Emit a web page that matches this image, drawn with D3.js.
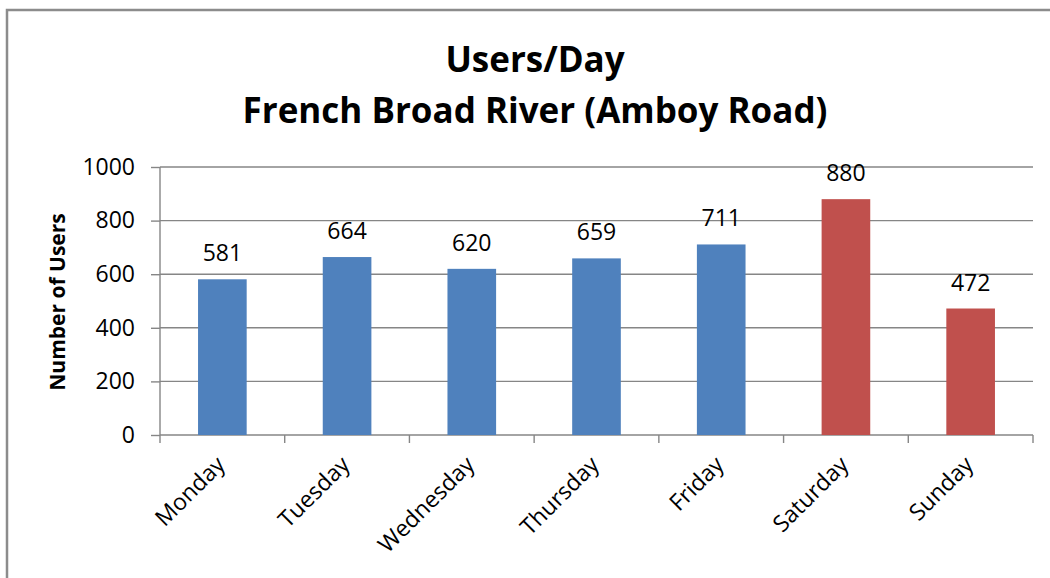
<!DOCTYPE html>
<html>
<head>
<meta charset="utf-8">
<script src="https://cdn.jsdelivr.net/npm/d3@7"></script>
<style>
  body { margin: 0; background: #fff; }
  svg { display: block; font-family: "Open Sans", sans-serif; }
</style>
</head>
<body>
<div id="chart"></div>
<script>
// chart values
const days = ["Monday", "Tuesday", "Wednesday", "Thursday", "Friday", "Saturday", "Sunday"];
const users = [581, 664, 620, 659, 711, 880, 472];
const weekend = ["Saturday", "Sunday"];
const yTicks = [0, 200, 400, 600, 800, 1000];
const titleLines = ["Users/Day", "French Broad River (Amboy Road)"];

const width = 1050, height = 578;
const plot = { left: 160, right: 1033, top: 167, bottom: 435 };
const gridColor = "#868686";

const svg = d3.select("#chart")
  .append("svg")
  .attr("width", width)
  .attr("height", height);

// outer chart border (right/bottom run off the picture)
svg.append("rect")
  .attr("x", 7)
  .attr("y", 10)
  .attr("width", 1060)
  .attr("height", 600)
  .attr("fill", "none")
  .attr("stroke", "#8c8c8c")
  .attr("stroke-width", 2.5);

const xScale = d3.scaleBand()
  .domain(days)
  .range([plot.left, plot.right])
  .padding(0);

const yScale = d3.scaleLinear()
  .domain([0, 1000])
  .range([plot.bottom, plot.top]);

// gridlines
svg.append("g")
  .selectAll("line")
  .data(yTicks.filter(d => d > 0))
  .enter().append("line")
  .attr("x1", plot.left)
  .attr("x2", plot.right)
  .attr("y1", d => yScale(d))
  .attr("y2", d => yScale(d))
  .attr("stroke", gridColor)
  .attr("stroke-width", 1.4);

// y axis
const yAxis = svg.append("g")
  .attr("transform", `translate(${plot.left},0)`)
  .call(d3.axisLeft(yScale).tickValues(yTicks).tickFormat(d3.format("d")).tickSize(9).tickPadding(16));
yAxis.select(".domain").remove();
yAxis.selectAll(".tick line").attr("stroke", gridColor).attr("stroke-width", 1.4);
yAxis.selectAll(".tick text")
  .attr("fill", "#000")
  .style("font-size", "23px")
  .style("font-family", "Open Sans, sans-serif");

svg.append("line")
  .attr("x1", plot.left).attr("x2", plot.left)
  .attr("y1", plot.top).attr("y2", plot.bottom + 8)
  .attr("stroke", gridColor).attr("stroke-width", 1.4);

// x axis
svg.append("line")
  .attr("x1", plot.left).attr("x2", plot.right)
  .attr("y1", plot.bottom).attr("y2", plot.bottom)
  .attr("stroke", gridColor).attr("stroke-width", 1.4);

svg.append("g")
  .selectAll("line")
  .data(days.slice(1).concat(["end"]))
  .enter().append("line")
  .attr("x1", (d, i) => plot.left + xScale.step() * (i + 1))
  .attr("x2", (d, i) => plot.left + xScale.step() * (i + 1))
  .attr("y1", plot.bottom)
  .attr("y2", plot.bottom + 8)
  .attr("stroke", gridColor).attr("stroke-width", 1.4);

svg.append("g")
  .selectAll("text")
  .data(days)
  .enter().append("text")
  .attr("transform", d => `translate(${xScale(d) + xScale.bandwidth() / 2 + 4},${plot.bottom + 31}) rotate(-45)`)
  .attr("text-anchor", "end")
  .style("font-size", "23px")
  .text(d => d);

// bars
const barW = xScale.bandwidth() * 0.39;
svg.append("g")
  .selectAll("rect")
  .data(days)
  .enter().append("rect")
  .attr("x", d => xScale(d) + (xScale.bandwidth() - barW) / 2)
  .attr("width", barW)
  .attr("y", (d, i) => yScale(users[i]))
  .attr("height", (d, i) => plot.bottom - yScale(users[i]))
  .attr("fill", d => weekend.includes(d) ? "#C0504D" : "#4F81BD");

// value labels
svg.append("g")
  .selectAll("text")
  .data(days)
  .enter().append("text")
  .attr("x", d => xScale(d) + xScale.bandwidth() / 2)
  .attr("y", (d, i) => yScale(users[i]) - 18)
  .attr("text-anchor", "middle")
  .style("font-size", "23px")
  .text((d, i) => users[i]);

// y axis title
svg.append("text")
  .attr("transform", `translate(65,302) rotate(-90)`)
  .attr("text-anchor", "middle")
  .style("font-size", "21px")
  .style("font-weight", "bold")
  .text("Number of Users");

// chart title
svg.append("g")
  .selectAll("text")
  .data(titleLines)
  .enter().append("text")
  .attr("x", 535)
  .attr("y", (d, i) => 72 + i * 51)
  .attr("text-anchor", "middle")
  .style("font-size", "35px")
  .style("font-weight", "bold")
  .text(d => d);
</script>
</body>
</html>
